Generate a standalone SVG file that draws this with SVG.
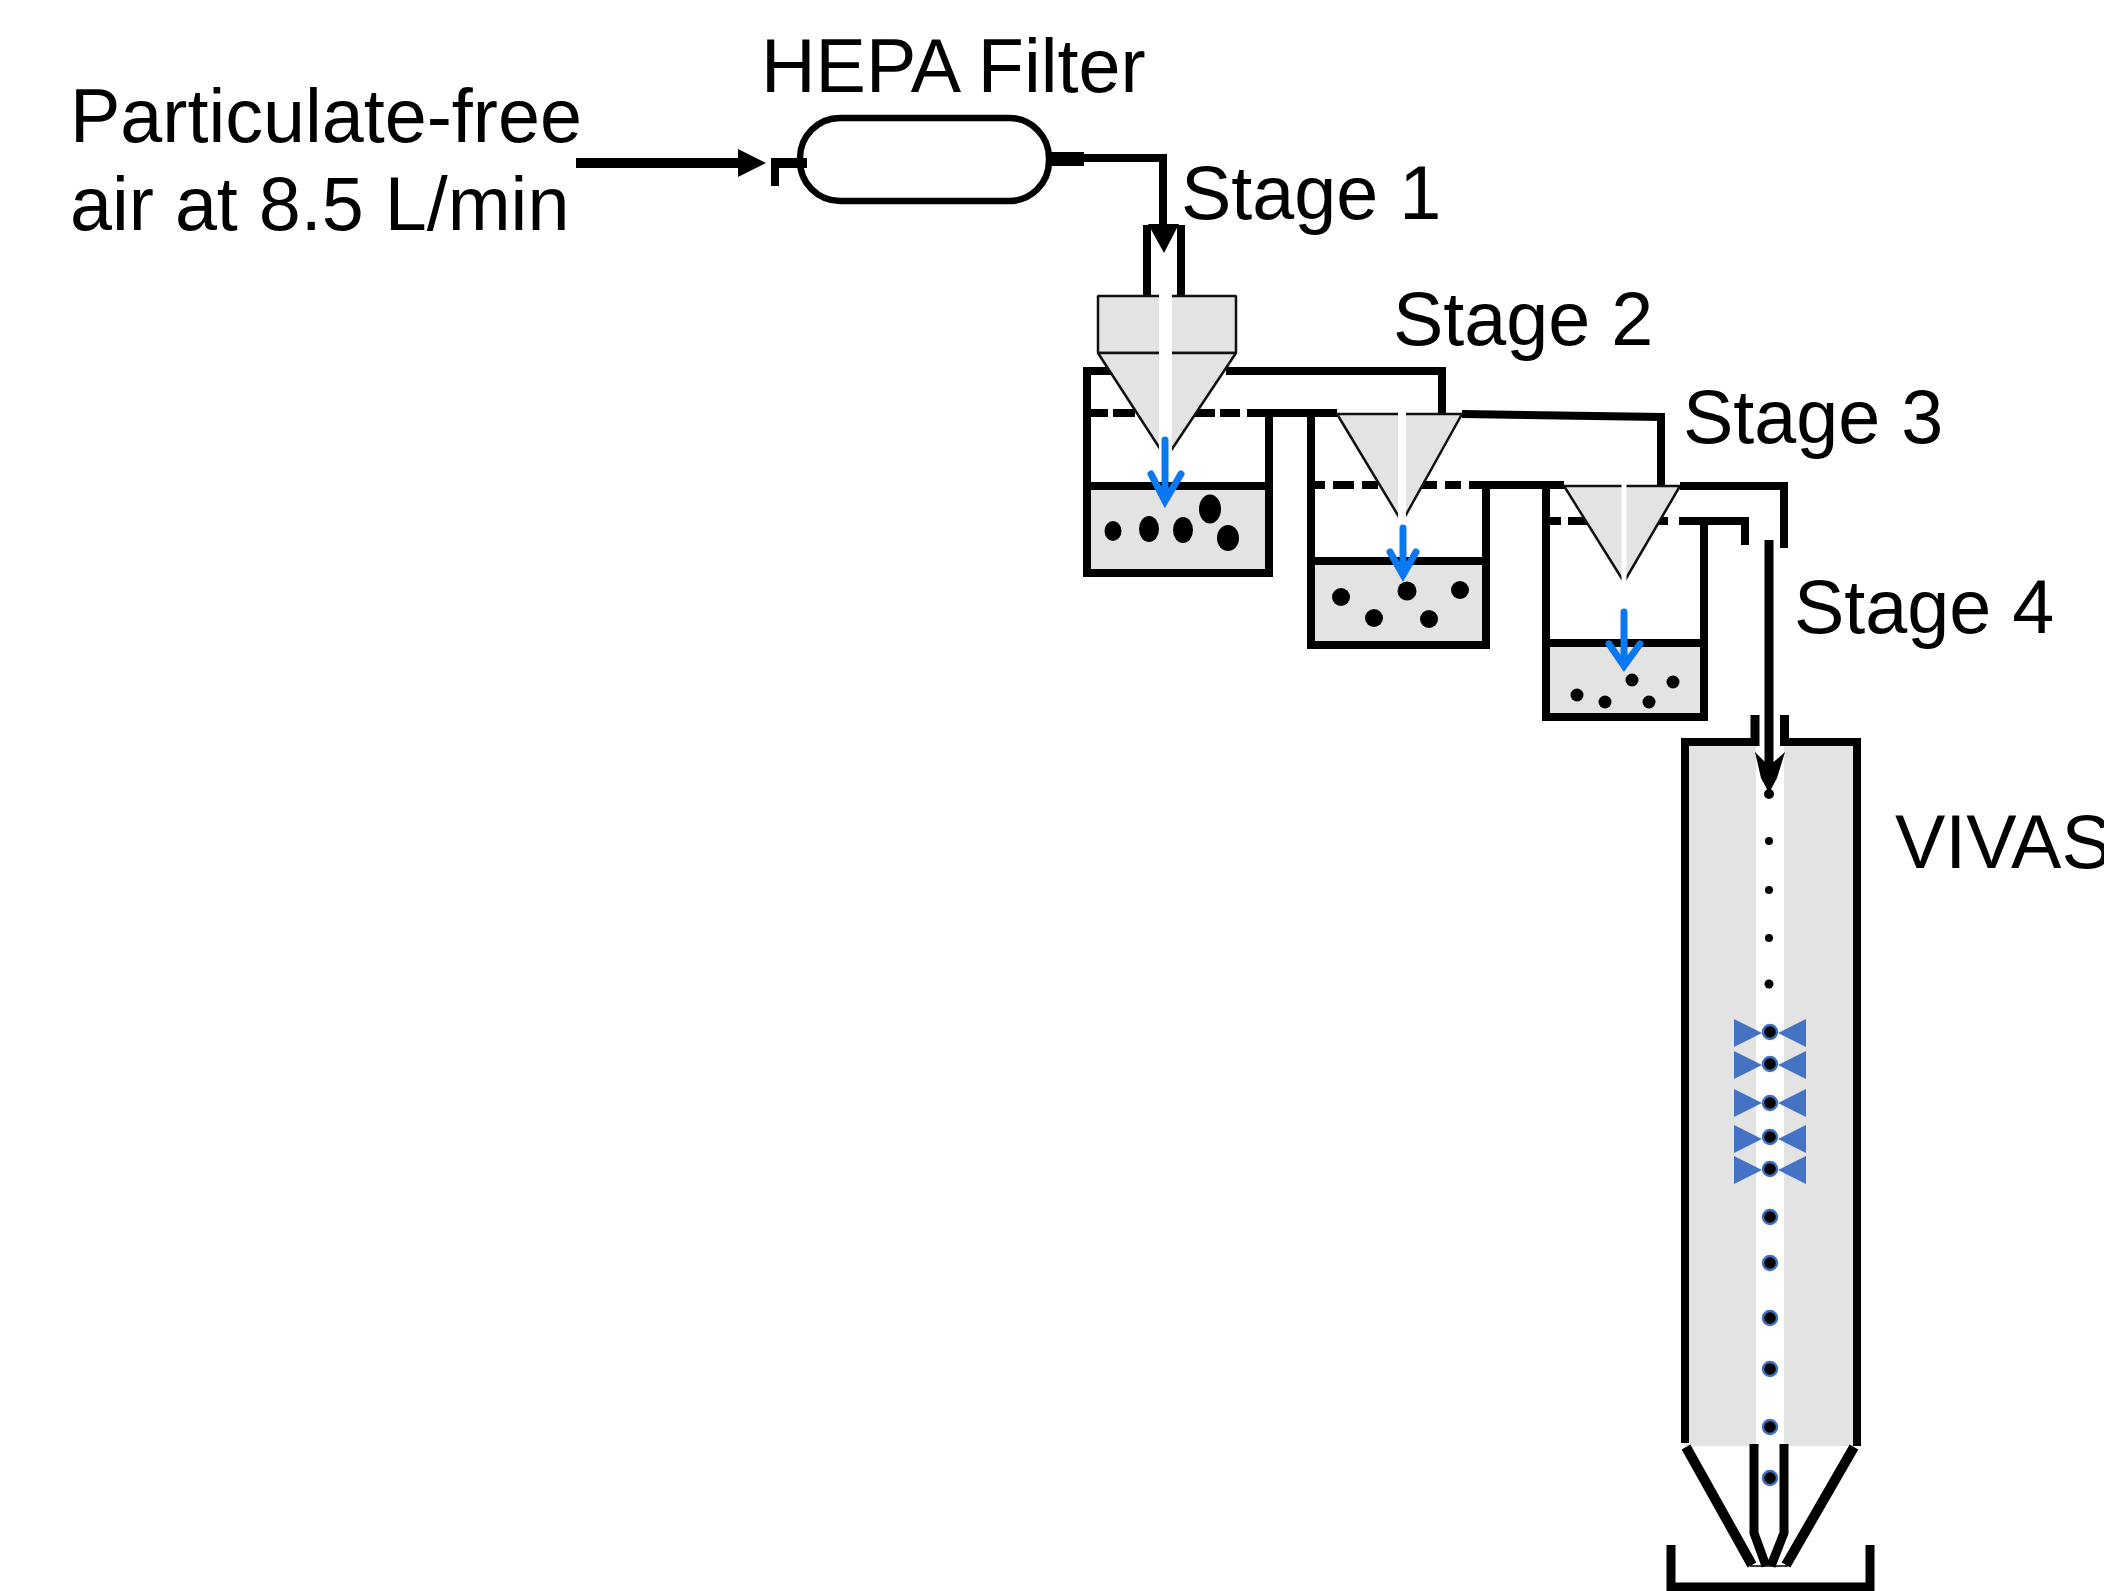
<svg xmlns="http://www.w3.org/2000/svg" width="2104" height="1591" viewBox="0 0 2104 1591">
<style>
text{font-family:"Liberation Sans",Arial,sans-serif;font-size:75.5px;fill:#000}
.w{fill:none;stroke:#000;stroke-width:8;stroke-linejoin:miter}
.t{fill:none;stroke:#000;stroke-width:10}
.g{fill:#e3e3e4}
.c{fill:#e3e3e4;stroke:#111;stroke-width:2.5;stroke-linejoin:bevel}
.s{fill:#fff}
.b{fill:none;stroke:#0a78f0;stroke-width:7;stroke-linecap:round;stroke-linejoin:miter}
.v{fill:#4472c4}
.d{stroke:#3f6fc0;stroke-width:2.5}
</style>
<defs>
<g id="bow"><polygon class="v" points="1734,-14 1762,0 1734,14"/><polygon class="v" points="1806,-14 1778,0 1806,14"/></g>
</defs>
<rect width="2104" height="1591" fill="#fff"/>
<g id="stage-1">
<path class="w" d="M1147 225V296M1181 225V296"/>
<rect class="g" x="1087" y="486" width="182" height="87"/>
<path class="w" d="M1112 371H1087V573H1269V413M1226 371H1442V414"/>
<path class="w" d="M1087 486H1269"/>
<path class="w" d="M1089 413H1108M1113 413H1135M1195 413H1215M1220 413H1240M1247 413H1337"/>
<rect class="c" x="1098" y="296" width="138" height="57"/>
<polygon class="c" points="1098,353 1236,353 1166,458"/>
<rect class="s" x="1159" y="290" width="13" height="172"/>
<path class="b" d="M1165 440V500M1151 474L1165 501L1181 474"/>
<g><ellipse cx="1113" cy="531" rx="8.500" ry="10"/><ellipse cx="1149" cy="529" rx="10" ry="13"/><ellipse cx="1183" cy="530" rx="10" ry="13"/><ellipse cx="1210" cy="509" rx="11" ry="14.500"/><ellipse cx="1228" cy="538" rx="11" ry="13"/></g>
</g>
<g id="stage-2">
<rect class="g" x="1311" y="561" width="175" height="84"/>
<path class="w" d="M1311 414V645H1486V486"/>
<path class="w" d="M1311 561H1486"/>
<path class="w" d="M1462 414L1661 417V486"/>
<path class="w" d="M1312 485H1325M1333 485H1354M1362 485H1378M1421 485H1437M1445 485H1461M1469 485H1564"/>
<polygon class="c" points="1337,414 1462,414 1402,522"/>
<rect class="s" x="1398" y="410" width="8" height="116"/>
<path class="b" d="M1403 528V574M1390 552L1403 575L1416 552"/>
<g><circle cx="1341" cy="597" r="9"/><circle cx="1374" cy="618" r="9"/><circle cx="1407" cy="591" r="9.500"/><circle cx="1429" cy="619" r="9"/><circle cx="1460" cy="590" r="9"/></g>
</g>
<g id="stage-3">
<rect class="g" x="1546" y="643" width="158" height="74"/>
<path class="w" d="M1546 483V717H1704V520"/>
<path class="w" d="M1546 643H1704"/>
<path class="w" d="M1548 521H1561M1568 521H1587M1659 521H1668M1679 521H1745V545"/>
<path class="w" d="M1680 486H1784V548"/>
<polygon class="c" points="1564,486 1680,486 1624,582"/>
<rect class="s" x="1621.500" y="482" width="5" height="102"/>
<path class="b" d="M1624 612V660M1609 644L1624 666L1640 644"/>
<g><circle cx="1577" cy="695" r="6.500"/><circle cx="1605" cy="702" r="6.500"/><circle cx="1632" cy="680" r="6.500"/><circle cx="1649" cy="702" r="6.500"/><circle cx="1673" cy="682" r="6.500"/></g>
</g>
<g id="vivas">
<rect class="g" x="1684" y="742" width="173" height="704"/>
<rect class="s" x="1756" y="742" width="28" height="704"/>
<path class="w" d="M1685 1443V742H1752"/>
<path class="w" d="M1789 742H1857V1446" />
<path d="M1755 715V746M1784.500 715V746" fill="none" stroke="#000" stroke-width="9"/>
<path class="t" d="M1686 1447L1752 1565M1854 1447L1786 1565"/>
<path d="M1754 1444V1533L1766 1566M1784 1444V1533L1771 1566" fill="none" stroke="#000" stroke-width="9"/>
<path d="M1750 1566H1788" stroke="#000" stroke-width="1.500"/>
<path d="M1671 1545V1587H1870V1545" fill="none" stroke="#000" stroke-width="9"/>
<g><circle cx="1769" cy="794" r="5"/><circle cx="1769" cy="841" r="4"/><circle cx="1769" cy="890" r="4"/><circle cx="1769" cy="938" r="4"/><circle cx="1769" cy="984" r="4.500"/></g>
<use href="#bow" y="1033"/><use href="#bow" y="1065"/><use href="#bow" y="1103"/><use href="#bow" y="1139"/><use href="#bow" y="1170"/>
<g class="d"><circle cx="1770" cy="1032" r="7"/><circle cx="1770" cy="1064" r="7"/><circle cx="1770" cy="1103" r="7"/><circle cx="1770" cy="1137" r="7"/><circle cx="1770" cy="1169" r="7"/><circle cx="1770" cy="1217" r="7"/><circle cx="1770" cy="1263" r="7"/><circle cx="1770" cy="1318" r="7"/><circle cx="1770" cy="1369" r="7"/><circle cx="1770" cy="1427" r="7"/><circle cx="1770" cy="1478" r="7"/></g>
</g>
<g id="hepa-filter">
<rect x="800" y="118" width="249" height="83" rx="40" fill="none" stroke="#000" stroke-width="6.500"/>
<path d="M771 163H807" fill="none" stroke="#000" stroke-width="10"/>
<path d="M775 158V186" fill="none" stroke="#000" stroke-width="8"/>
<path d="M1050 159H1084" fill="none" stroke="#000" stroke-width="14"/>
</g>
<g id="connectors">
<path d="M576 163H742" fill="none" stroke="#000" stroke-width="10"/>
<polygon points="738,149 766,163 738,177"/>
<path d="M1084 158H1167" fill="none" stroke="#000" stroke-width="8"/>
<path d="M1163 154V230" fill="none" stroke="#000" stroke-width="8"/>
<polygon points="1148,224 1179,224 1164,253"/>
<path d="M1769 540V775" fill="none" stroke="#000" stroke-width="9"/>
<polygon points="1755,752 1769,766 1785,752 1777,778 1769,793 1761,778"/>
</g>
<g id="labels">
<text x="70" y="142">Particulate-free</text>
<text x="70" y="230">air at 8.5 L/min</text>
<text x="761" y="92">HEPA Filter</text>
<text x="1181" y="219">Stage 1</text>
<text x="1393" y="345">Stage 2</text>
<text x="1683" y="443">Stage 3</text>
<text x="1794" y="633">Stage 4</text>
<text x="1895" y="868">VIVAS</text>
</g>
</svg>
